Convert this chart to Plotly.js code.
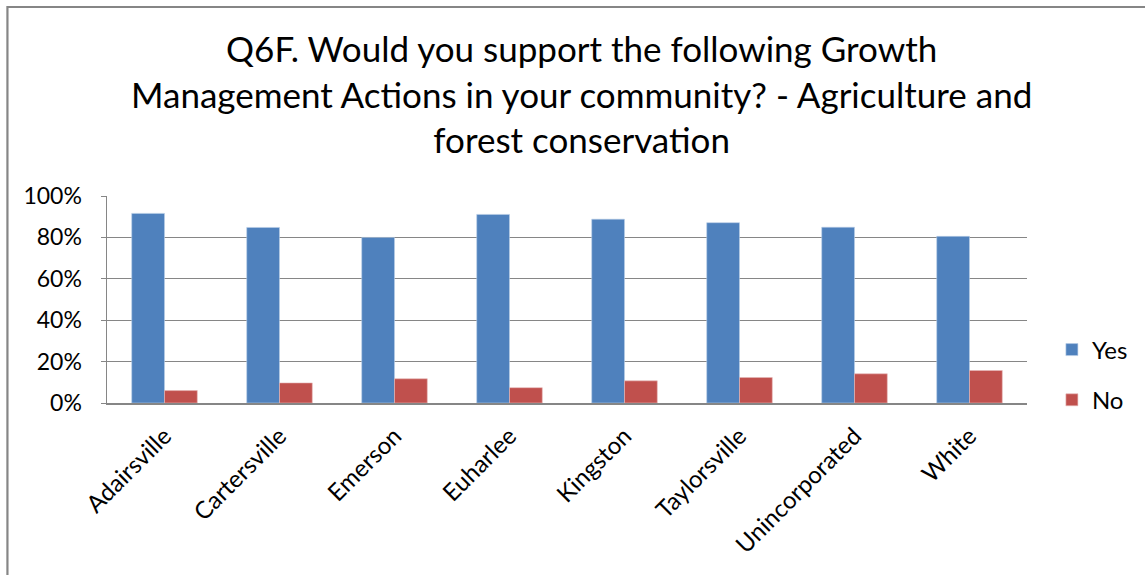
<!DOCTYPE html>
<html>
<head>
<meta charset="utf-8">
<script src="https://cdn.plot.ly/plotly-3.0.1.min.js"></script>
<style>
html,body{margin:0;padding:0;background:#fff;}
#chart{width:1145px;height:575px;}
</style>
</head>
<body>
<div id="chart"></div>
<script>
const categories = ["Adairsville","Cartersville","Emerson","Euharlee","Kingston","Taylorsville","Unincorporated","White"];
const yesValues = [0.916, 0.848, 0.800, 0.911, 0.888, 0.871, 0.849, 0.805];
const noValues  = [0.060, 0.097, 0.117, 0.074, 0.107, 0.123, 0.141, 0.157];
const seriesNames = ["Yes","No"];
const titleText = "Q6F. Would you support the following Growth<br>Management Actions in your community? - Agriculture and<br>forest conservation";

const FONT = "Lato, 'Open Sans', sans-serif";
const W = 1145, H = 575;
const L = 107, R = 114, T = 196, B = 172;
const pw = W - L - R, ph = H - T - B;

const traces = [
  {type:"bar", name:seriesNames[0], x:categories, y:yesValues, legendgroup:"a",
   marker:{color:"#4F81BD", line:{color:"#B9CDE5", width:0.6}}, hoverinfo:"x+y"},
  {type:"bar", name:seriesNames[1], x:categories, y:noValues, legendgroup:"b",
   marker:{color:"#C0504D", line:{color:"#E6B9B8", width:0.6}}, hoverinfo:"x+y"}
];

const layout = {
  width:W, height:H,
  margin:{l:L, r:R, t:T, b:B},
  paper_bgcolor:"#fff", plot_bgcolor:"#fff",
  font:{family:FONT, color:"#000"},
  title:{text:titleText, font:{family:FONT, size:35, color:"#000"}, x:0.508, xanchor:"center",
         yref:"container", y:1-62/575, yanchor:"middle"},
  barmode:"group", bargap:0.43, bargroupgap:0,
  xaxis:{type:"category", tickangle:-45, tickfont:{family:FONT, size:24, color:"#000"},
         showline:true, linecolor:"#868686", linewidth:1.5, ticks:"", showgrid:false, ticklabelstandoff:8},
  yaxis:{range:[0,1], dtick:0.2, tick0:0, tickformat:".0%", tickfont:{family:FONT, size:23, color:"#000"},
         showgrid:true, gridcolor:"#868686", gridwidth:1.3, showline:true, linecolor:"#868686", linewidth:1.5,
         ticks:"outside", ticklen:5, tickcolor:"#868686", zeroline:false, ticklabelstandoff:14},
  legend:{x:(1056-L)/pw, xanchor:"left", y:(403-375)/ph, yanchor:"middle",
          font:{family:FONT, size:24, color:"#000"}, traceorder:"grouped", tracegroupgap:16,
          itemwidth:30, bgcolor:"rgba(0,0,0,0)"},
  shapes:[
    {type:"rect", xref:"paper", yref:"paper",
     x0:(7-L)/pw, x1:(W+20-L)/pw, y0:-(B+20)/ph, y1:1+(T-7)/ph,
     line:{color:"#868686", width:2.2}, fillcolor:"rgba(0,0,0,0)", layer:"below"}
  ],
  showlegend:true
};

Plotly.newPlot("chart", traces, layout, {displayModeBar:false, staticPlot:true});
</script>
</body>
</html>
